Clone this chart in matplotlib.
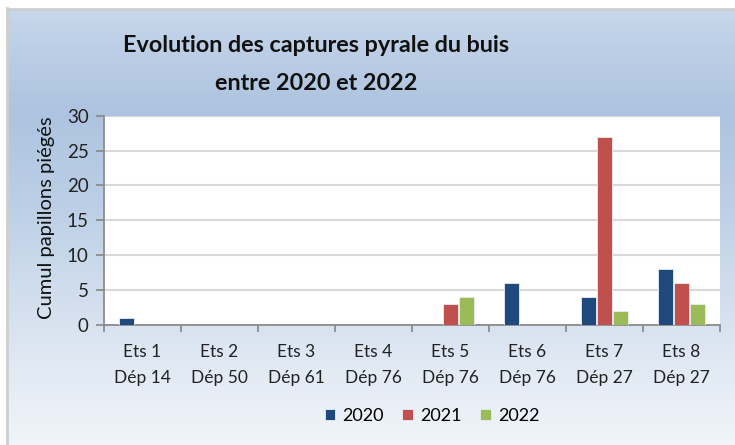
import numpy as np
import matplotlib
matplotlib.use("Agg")
import matplotlib.pyplot as plt
from matplotlib.colors import LinearSegmentedColormap

plt.rcParams['font.family'] = ['Lato', 'DejaVu Sans']

categories = ["Ets 1\nDép 14", "Ets 2\nDép 50", "Ets 3\nDép 61", "Ets 4\nDép 76",
              "Ets 5\nDép 76", "Ets 6\nDép 76", "Ets 7\nDép 27", "Ets 8\nDép 27"]
years = ["2020", "2021", "2022"]
v2020 = [1, 0, 0, 0, 0, 6, 4, 8]
v2021 = [0, 0, 0, 0, 3, 0, 27, 6]
v2022 = [0, 0, 0, 0, 4, 0, 2, 3]
colors = ["#1f497d", "#c0504d", "#9bbb59"]

W, H = 735, 445
fig = plt.figure(figsize=(W / 100, H / 100), dpi=100)
fig.patch.set_facecolor("white")

# gradient background of the chart box
bg = fig.add_axes([8 / W, 0, 1 - 8 / W, (H - 9) / H])
bg.set_axis_off()
cmap = LinearSegmentedColormap.from_list("bg", [
    (0.0, "#c7d7eb"), (0.23, "#adc3df"), (0.45, "#bccfe6"),
    (0.7, "#d6e1ef"), (1.0, "#f1f5fa")])
grad = np.linspace(0, 1, 256).reshape(-1, 1)
bg.imshow(grad, aspect="auto", cmap=cmap, extent=[0, 1, 0, 1], origin="upper")
bg.set_xlim(0, 1)
bg.set_ylim(0, 1)
# gray border (top and left)
fig.add_artist(plt.Line2D([7 / W, 1], [(H - 8.5) / H] * 2, color="#cfcfcf", lw=2))
fig.add_artist(plt.Line2D([7.5 / W] * 2, [0, (H - 8) / H], color="#cfcfcf", lw=2))

ax = fig.add_axes([104 / W, (H - 325) / H, (720 - 104) / W, (325 - 115.7) / H])
ax.set_facecolor("white")

x = np.arange(len(categories))
w = 0.19
step = 0.205
for i, (vals, c, lab) in enumerate(zip([v2020, v2021, v2022], colors, years)):
    ax.bar(x + (i - 1) * step, vals, width=w, color=c, edgecolor="#e8edf4",
           linewidth=0.6, label=lab, zorder=3)

ax.set_xlim(-0.5, len(categories) - 0.5)
ax.set_ylim(0, 30)
ax.set_yticks(range(0, 31, 5))
ax.yaxis.grid(True, color="#d9d9d9", lw=1.5, zorder=0)
ax.set_axisbelow(True)

ax.set_xticks(x)
ax.set_xticklabels(categories, fontsize=12.5, color="#222222", linespacing=1.75)
ax.set_xticks(np.arange(-0.5, len(categories)), minor=True)
ax.tick_params(axis="x", which="major", length=0, pad=14)
ax.tick_params(axis="x", which="minor", length=5, color="#8c8c8c", width=1.3)
ax.tick_params(axis="y", length=6, color="#8c8c8c", width=1.3, labelsize=13.5,
               labelcolor="#222222", pad=5)

for s in ["top", "right"]:
    ax.spines[s].set_visible(False)
for s in ["left", "bottom"]:
    ax.spines[s].set_color("#8c8c8c")
    ax.spines[s].set_linewidth(1.3)

fig.text(47 / W, 1 - 218 / H, "Cumul papillons piégés", rotation=90,
         ha="center", va="center", fontsize=14.5, color="#111111")

fig.text(316 / W, 1 - 45 / H, "Evolution des captures pyrale du buis",
         ha="center", va="center", fontsize=16.8, fontweight="bold", color="#111111")
fig.text(316 / W, 1 - 84 / H, "entre 2020 et 2022",
         ha="center", va="center", fontsize=16.8, fontweight="bold", color="#111111")

fig.legend(loc="center", bbox_to_anchor=(432 / W, 1 - 416 / H), ncol=3,
           frameon=False, fontsize=13, handlelength=0.6, handleheight=0.6,
           handletextpad=0.4, columnspacing=1.0)

fig.savefig("out.png", dpi=100)
